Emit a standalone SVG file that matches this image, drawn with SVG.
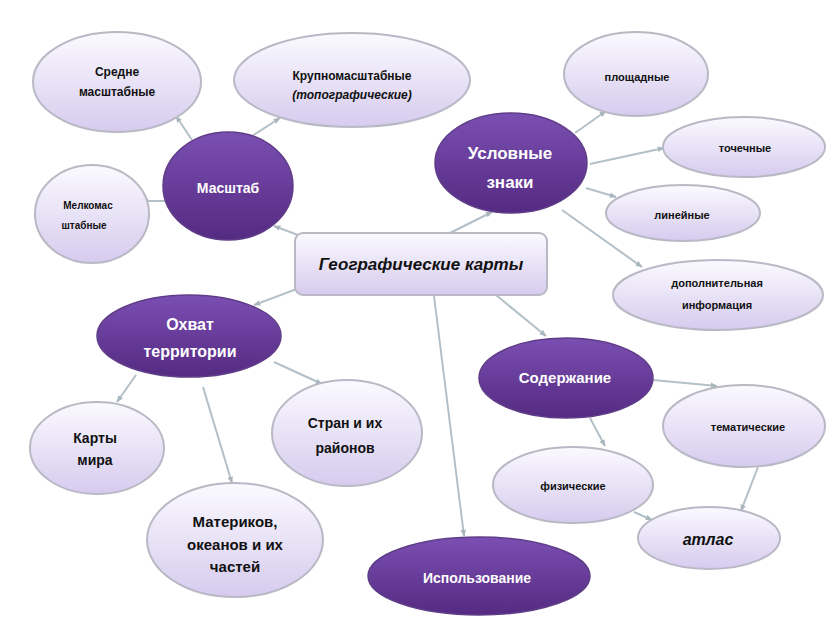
<svg xmlns="http://www.w3.org/2000/svg" width="826" height="624" viewBox="0 0 826 624">
<defs>
<linearGradient id="light" x1="0" y1="0" x2="0" y2="1">
<stop offset="0" stop-color="#fbfaff"/>
<stop offset="1" stop-color="#d6cbee"/>
</linearGradient>
<linearGradient id="dark" x1="0" y1="0" x2="0" y2="1">
<stop offset="0" stop-color="#7a4fb2"/>
<stop offset="1" stop-color="#552a82"/>
</linearGradient>
<marker id="arr" viewBox="0 0 10 10" refX="9" refY="5" markerWidth="7" markerHeight="7" orient="auto-start-reverse" markerUnits="userSpaceOnUse">
<path d="M0,1 L10,5 L0,9 z" fill="#a9b6be"/>
</marker>
<style>
.lt{fill:url(#light);stroke:#b9b9c6;stroke-width:2}
.dk{fill:url(#dark);stroke:#5f3d88;stroke-width:1.5}
.c line{stroke:#b3c0c8;stroke-width:2;marker-end:url(#arr)}
text{font-family:"Liberation Sans","DejaVu Sans",sans-serif;font-weight:bold;text-anchor:middle}
.w{fill:#ffffff}
.b{fill:#111111}
</style>
</defs>
<rect width="826" height="624" fill="#ffffff"/>
<g class="c" id="connectors">
<line x1="192" y1="140" x2="176" y2="116"/>
<line x1="252" y1="136" x2="280" y2="118"/>
<line x1="165" y1="201" x2="142" y2="201"/>
<line x1="306" y1="238" x2="274" y2="226"/>
<line x1="450" y1="233" x2="492" y2="212"/>
<line x1="302" y1="287" x2="254" y2="305"/>
<line x1="496" y1="295" x2="546" y2="336"/>
<line x1="434" y1="296" x2="464" y2="536"/>
<line x1="575" y1="133" x2="606" y2="111"/>
<line x1="590" y1="164" x2="664" y2="148"/>
<line x1="586" y1="188" x2="616" y2="197"/>
<line x1="562" y1="210" x2="642" y2="267"/>
<line x1="136" y1="375" x2="117" y2="402"/>
<line x1="203" y1="387" x2="232" y2="483"/>
<line x1="274" y1="362" x2="322" y2="384"/>
<line x1="653" y1="380" x2="717" y2="386"/>
<line x1="590" y1="418" x2="605" y2="446"/>
<line x1="634" y1="512" x2="652" y2="520"/>
<line x1="758" y1="467" x2="741" y2="511"/>
</g>
<g id="n-srednie">
<ellipse class="lt" cx="117" cy="82" rx="84" ry="50"/>
<text class="b" font-size="12" x="117" y="76">Средне</text>
<text class="b" font-size="12" x="117" y="96">масштабные</text>
</g>
<g id="n-krupno">
<ellipse class="lt" cx="352" cy="80" rx="118" ry="47"/>
<text class="b" font-size="12" x="352" y="80">Крупномасштабные</text>
<text class="b" font-size="12" x="352" y="99" font-style="italic">(топографические)</text>
</g>
<g id="n-masshtab">
<ellipse class="dk" cx="228" cy="186" rx="65" ry="54"/>
<text class="w" font-size="14" x="228" y="193">Масштаб</text>
</g>
<g id="n-melko">
<ellipse class="lt" cx="92" cy="214" rx="57" ry="49"/>
<text class="b" font-size="10" x="88" y="209">Мелкомас</text>
<text class="b" font-size="10" x="84" y="229">штабные</text>
</g>
<g id="n-geo">
<rect class="lt" x="295" y="233" width="252" height="62" rx="8"/>
<text class="b" font-size="17" font-style="italic" x="421" y="270">Географические карты</text>
</g>
<g id="n-uslovnye">
<ellipse class="dk" cx="511" cy="163" rx="76" ry="50"/>
<text class="w" font-size="17" x="510" y="159">Условные</text>
<text class="w" font-size="17" x="510" y="188">знаки</text>
</g>
<g id="n-ploshad">
<ellipse class="lt" cx="636" cy="74" rx="72" ry="42"/>
<text class="b" font-size="11" x="637" y="81">площадные</text>
</g>
<g id="n-tochech">
<ellipse class="lt" cx="744" cy="147" rx="81" ry="30"/>
<text class="b" font-size="11" x="745" y="152">точечные</text>
</g>
<g id="n-lineyn">
<ellipse class="lt" cx="683" cy="213" rx="77" ry="28"/>
<text class="b" font-size="11" x="682" y="219">линейные</text>
</g>
<g id="n-dop">
<ellipse class="lt" cx="718" cy="295" rx="105" ry="35"/>
<text class="b" font-size="11" x="717" y="287">дополнительная</text>
<text class="b" font-size="11" x="717" y="309">информация</text>
</g>
<g id="n-ohvat">
<ellipse class="dk" cx="189" cy="336" rx="92" ry="41"/>
<text class="w" font-size="16" x="190" y="330">Охват</text>
<text class="w" font-size="16" x="190" y="357">территории</text>
</g>
<g id="n-karty-mira">
<ellipse class="lt" cx="97" cy="448" rx="67" ry="46"/>
<text class="b" font-size="14" x="95" y="443">Карты</text>
<text class="b" font-size="14" x="95" y="465">мира</text>
</g>
<g id="n-stran">
<ellipse class="lt" cx="347" cy="433" rx="75" ry="53"/>
<text class="b" font-size="14" x="345" y="428">Стран и их</text>
<text class="b" font-size="14" x="345" y="453">районов</text>
</g>
<g id="n-materikov">
<ellipse class="lt" cx="235" cy="540" rx="88" ry="57"/>
<text class="b" font-size="15" x="235" y="527">Материков,</text>
<text class="b" font-size="15" x="235" y="550">океанов и их</text>
<text class="b" font-size="15" x="235" y="572">частей</text>
</g>
<g id="n-ispolz">
<ellipse class="dk" cx="479" cy="576" rx="111" ry="39"/>
<text class="w" font-size="14" x="477" y="583">Использование</text>
</g>
<g id="n-soderzh">
<ellipse class="dk" cx="566" cy="378" rx="87" ry="40"/>
<text class="w" font-size="15" x="565" y="383">Содержание</text>
</g>
<g id="n-temat">
<ellipse class="lt" cx="744" cy="426" rx="81" ry="41"/>
<text class="b" font-size="11" x="748" y="431">тематические</text>
</g>
<g id="n-fiz">
<ellipse class="lt" cx="573" cy="485" rx="80" ry="38"/>
<text class="b" font-size="11" x="573" y="490">физические</text>
</g>
<g id="n-atlas">
<ellipse class="lt" cx="709" cy="538" rx="71" ry="31"/>
<text class="b" font-size="16" font-style="italic" x="708" y="545">атлас</text>
</g>
</svg>
